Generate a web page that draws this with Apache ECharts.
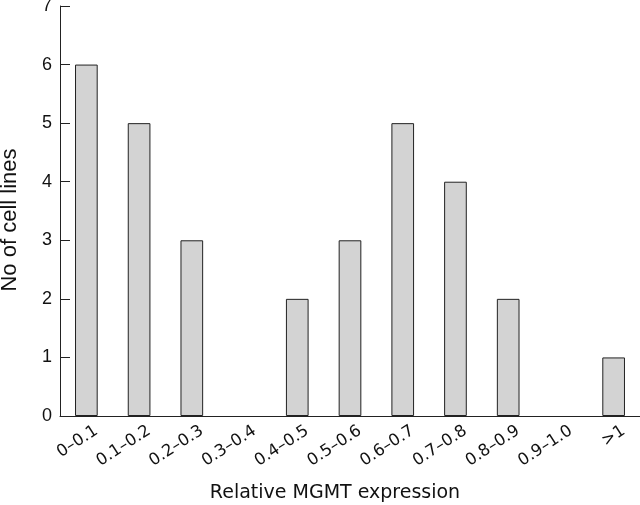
<!DOCTYPE html>
<html><head><meta charset="utf-8">
<script src="https://cdn.jsdelivr.net/npm/echarts@6/dist/echarts.min.js"></script>
<style>html,body{margin:0;padding:0;background:#fff}#c{width:640px;height:505px}</style>
</head><body><div id="c"></div>
<script>
const categories = ['0–0.1','0.1–0.2','0.2–0.3','0.3–0.4','0.4–0.5','0.5–0.6','0.6–0.7','0.7–0.8','0.8–0.9','0.9–1.0','>1'];
const counts = [6,5,3,0,2,3,5,4,2,0,1];
const yTicks = [0,1,2,3,4,5,6,7];
const geoFont = 'DejaVu Sans';
const arialFont = 'Liberation Sans';
const chart = echarts.init(document.getElementById('c'));
chart.setOption({
  animation:false,
  grid:{left:60,right:0,top:6,bottom:89,containLabel:false,outerBoundsMode:'none'},
  xAxis:{
    type:'category', data:categories,
    name:'Relative MGMT expression', nameLocation:'middle', nameGap:68,
    nameTextStyle:{fontFamily:geoFont,fontSize:19,color:'#111',padding:[0,30,0,0]},
    axisLine:{lineStyle:{color:'#222',width:1}},
    axisTick:{inside:true,length:6,lineStyle:{color:'#222'}},
    axisLabel:{rotate:33,fontFamily:geoFont,fontSize:16.5,color:'#111',margin:20,interval:0,
      padding:[0,-12,0,0]}
  },
  yAxis:{
    type:'value', min:0, max:7, interval:1,
    name:'No of cell lines', nameLocation:'middle', nameGap:39,
    nameTextStyle:{fontFamily:arialFont,fontSize:22,color:'#111',padding:[0,18,0,0]},
    axisLine:{show:true,lineStyle:{color:'#222',width:1}},
    axisTick:{show:true,inside:true,length:10,lineStyle:{color:'#222'}},
    axisLabel:{fontFamily:arialFont,fontSize:18,color:'#111',margin:8,
      formatter:v=>yTicks.includes(v)?String(v):''},
    splitLine:{show:false}
  },
  series:[{type:'bar',data:counts.map(v=>v===0?null:v),barWidth:'43%',
    itemStyle:{color:'#d3d3d3',borderColor:'#222',borderWidth:1}}]
});
</script></body></html>
